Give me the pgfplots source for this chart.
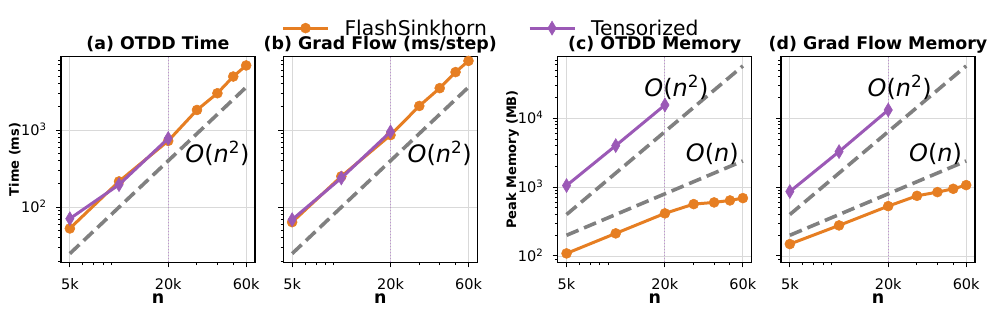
\documentclass[border=0pt]{standalone}
\usepackage{fontspec}
\setmainfont{DejaVu Sans}
\usepackage{pgfplots}
\pgfplotsset{compat=1.18}
\definecolor{cOr}{HTML}{E67E22}
\definecolor{cPu}{HTML}{9B59B6}
\definecolor{cGr}{HTML}{808080}
\newcommand\fs[1]{\fontsize{#1}{#1}\selectfont}
\tikzset{
 flash/.style={cOr, line width=3pt, mark=*, mark size=5pt, mark options={solid, fill=cOr, draw=cOr, line width=0.5pt}},
 tens/.style={cPu, line width=3pt, mark=diamond*, mark size=7pt, mark options={solid, fill=cPu, draw=cPu, line width=0.5pt, xscale=0.8}},
 refl/.style={cGr, line width=3.6pt, dash pattern=on 13pt off 6pt},
 vline/.style={cPu!65, line width=1pt, dash pattern=on 1pt off 2pt},
}
\pgfplotsset{
 panel/.style={
  scale only axis, width=194pt, height=205.6pt, anchor=south west,
  xmin=4415, xmax=67950,
  xtick={5000,20000,60000}, xticklabels={5k,20k,60k},
  minor xtick={6000,7000,8000,9000,30000,40000,50000},
  tick align=outside, tick pos=left,
  major tick length=5pt, minor tick length=2.8pt,
  every tick/.append style={black, line width=1pt},
  axis line style={line width=1.4pt},
  xmajorgrids, ymajorgrids,
  major grid style={black!15, line width=0.9pt},
  tick label style={font=\fs{14.5}, inner sep=0pt},
  xticklabel style={anchor=base, yshift=-22.7pt},
  yticklabel style={anchor=base east, xshift=-9.3pt, yshift=-5.3pt},
  every axis title/.style={at={(axis description cs:0.5,1)}, anchor=base, yshift=7pt, font=\fs{17.4}\bfseries},
  xlabel={n}, xlabel style={at={(axis description cs:0.5,-0.2)}, anchor=base, font=\fs{17.4}\bfseries},
  ylabel style={at={(axis description cs:-0.2175,0.5)}, anchor=base, font=\fs{13}\bfseries},
  clip mode=individual,
 },
 timeax/.style={panel, ymin=19.3, ymax=8950, ytick={100,1000},
  minor ytick={20,30,40,50,60,70,80,90,200,300,400,500,600,700,800,900,2000,3000,4000,5000,6000,7000,8000}},
 memax/.style={panel, ymin=81, ymax=78500, ytick={100,1000,10000},
  minor ytick={90,200,300,400,500,600,700,800,900,2000,3000,4000,5000,6000,7000,8000,9000,20000,30000,40000,50000,60000,70000}},
}
\begin{document}
\begin{tikzpicture}
\useasboundingbox (0pt,0pt) rectangle (996pt,315pt);
% (a)
\begin{axis}[xmode=log, ymode=log, timeax, at={(61pt,52.7pt)}, title={(a) OTDD Time}, ylabel={Time (ms)},
  yticklabels={10\textsuperscript{2},10\textsuperscript{3}}]
\addplot[vline] coordinates {(20000,19.3) (20000,8950)};
\addplot[refl] coordinates {(5000,25) (60000,3600)};
\addplot[flash] coordinates {(5000,53) (10000,216) (20000,725) (30000,1824) (40000,3006) (50000,4950) (60000,6890)};
\addplot[tens] coordinates {(5000,71) (10000,196) (20000,780)};
\node[font=\fs{24}] at (axis cs:40000,500) {\textit{O}(\textit{n}\textsuperscript{2})};
\end{axis}
% (b)
\begin{axis}[xmode=log, ymode=log, timeax, at={(283.3pt,52.7pt)}, title={(b) Grad Flow (ms/step)}, yticklabels={},
  legend style={at={(axis description cs:-0.01,1.139)}, anchor=west, draw=none, fill=none, inner sep=0pt,
    font=\fs{20.3}, legend columns=2, nodes={inner sep=0pt}, column sep=0pt},
  legend image code/.code={\draw[mark repeat=2,mark phase=2,#1] plot coordinates {(0pt,0pt) (22.5pt,0pt) (45pt,0pt)};}]
\addplot[vline, forget plot] coordinates {(20000,19.3) (20000,8950)};
\addplot[refl, forget plot] coordinates {(5000,25) (60000,3600)};
\addplot[flash] coordinates {(5000,64) (10000,251) (20000,861) (30000,2055) (40000,3500) (50000,5650) (60000,7890)};
\addlegendentry{\hspace{15pt}FlashSinkhorn\rule{41pt}{0pt}}
\addplot[tens] coordinates {(5000,69) (10000,239) (20000,950)};
\addlegendentry{\hspace{15pt}Tensorized}
\node[font=\fs{24}] at (axis cs:40000,500) {\textit{O}(\textit{n}\textsuperscript{2})};
\end{axis}
% (c)
\begin{axis}[xmode=log, ymode=log, memax, at={(557.7pt,52.7pt)}, title={(c) OTDD Memory}, ylabel={Peak Memory (MB)},
  yticklabels={10\textsuperscript{2},10\textsuperscript{3},10\textsuperscript{4}},
  ylabel style={at={(axis description cs:-0.215,0.5)}}]
\addplot[vline] coordinates {(20000,81) (20000,78500)};
\addplot[refl] coordinates {(5000,400) (60000,57600)};
\addplot[refl] coordinates {(5000,200) (60000,2400)};
\addplot[flash] coordinates {(5000,109) (10000,213) (20000,416) (30000,567) (40000,600) (50000,641) (60000,693)};
\addplot[tens] coordinates {(5000,1055) (10000,4010) (20000,15600)};
\node[font=\fs{24}] at (axis cs:23500,28000) {\textit{O}(\textit{n}\textsuperscript{2})};
\node[font=\fs{24}] at (axis cs:39000,3000) {\textit{O}(\textit{n})};
\end{axis}
% (d)
\begin{axis}[xmode=log, ymode=log, memax, at={(781pt,52.7pt)}, title={(d) Grad Flow Memory}, yticklabels={}]
\addplot[vline] coordinates {(20000,81) (20000,78500)};
\addplot[refl] coordinates {(5000,400) (60000,57600)};
\addplot[refl] coordinates {(5000,200) (60000,2400)};
\addplot[flash] coordinates {(5000,149) (10000,278) (20000,530) (30000,748) (40000,847) (50000,946) (60000,1070)};
\addplot[tens] coordinates {(5000,863) (10000,3280) (20000,13200)};
\node[font=\fs{24}] at (axis cs:23500,28000) {\textit{O}(\textit{n}\textsuperscript{2})};
\node[font=\fs{24}] at (axis cs:39000,3000) {\textit{O}(\textit{n})};
\end{axis}
\end{tikzpicture}
\end{document}
